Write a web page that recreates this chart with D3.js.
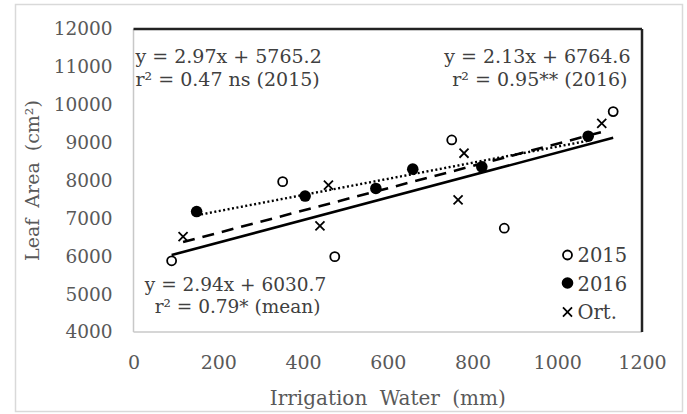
<!DOCTYPE html>
<meta charset="utf-8">
<script src="https://d3js.org/d3.v7.min.js"></script>
<style>
  body { margin: 0; background: #fff; }
  text { font-family: "DejaVu Serif", serif; }
</style>
<div id="my_dataviz"></div>
<script>
  // data
  const irr2015 = [90, 352, 475, 751, 875, 1132];
  const leaf2015 = [5880, 7970, 5990, 9070, 6740, 9820];
  const irr2016 = [149, 405, 572, 659, 822, 1073];
  const leaf2016 = [7180, 7590, 7790, 8300, 8360, 9170];
  const irrOrt = [117, 440, 460, 766, 780, 1105];
  const leafOrt = [6520, 6800, 7880, 7490, 8720, 9510];

  // regression lines: slope, intercept
  const fit2015 = [2.97, 5765.2];
  const fit2016 = [2.13, 6764.6];
  const fitMean = [2.94, 6030.7];

  const xTicks = [0, 200, 400, 600, 800, 1000, 1200];
  const yTicks = [4000, 5000, 6000, 7000, 8000, 9000, 10000, 11000, 12000];

  const W = 687, H = 414;
  const margin = {top: 29, right: 45, bottom: 82, left: 133.5};
  const width = W - margin.left - margin.right,
        height = H - margin.top - margin.bottom;

  const root = d3.select("#my_dataviz").append("svg")
    .attr("width", W).attr("height", H);

  // outer frame
  root.append("rect")
    .attr("x", 15.5).attr("y", 4.5).attr("width", 667).attr("height", 407)
    .attr("fill", "#fff").attr("stroke", "#d9d9d9").attr("stroke-width", 1.5);

  const svg = root.append("g")
    .attr("transform", `translate(${margin.left},${margin.top})`);

  const x = d3.scaleLinear().domain([0, 1200]).range([0, width]);
  const y = d3.scaleLinear().domain([4000, 12000]).range([height, 0]);

  // axes (labels only)
  const xAxis = svg.append("g")
    .attr("transform", `translate(0,${height})`)
    .call(d3.axisBottom(x).tickValues(xTicks).tickSize(0).tickPadding(24).tickFormat(d3.format("d")));
  xAxis.select(".domain").remove();
  xAxis.selectAll("text").attr("font-size", 19).attr("fill", "#595959")
    .attr("font-family", "DejaVu Serif");

  const yAxis = svg.append("g")
    .call(d3.axisLeft(y).tickValues(yTicks).tickSize(0).tickPadding(21).tickFormat(d3.format("d")));
  yAxis.select(".domain").remove();
  yAxis.selectAll("text").attr("font-size", 18.5).attr("fill", "#595959")
    .attr("font-family", "DejaVu Serif");

  // plot frame: grey left/bottom, dark top/right
  svg.append("line").attr("x1", 0).attr("x2", 0).attr("y1", 0).attr("y2", height)
    .attr("stroke", "#c8c8c8").attr("stroke-width", 1.5);
  svg.append("line").attr("x1", 0).attr("x2", width).attr("y1", height).attr("y2", height)
    .attr("stroke", "#c8c8c8").attr("stroke-width", 1.5);
  svg.append("line").attr("x1", 0).attr("x2", width).attr("y1", 0).attr("y2", 0)
    .attr("stroke", "#222").attr("stroke-width", 2.5);
  svg.append("line").attr("x1", width).attr("x2", width).attr("y1", 0).attr("y2", height)
    .attr("stroke", "#222").attr("stroke-width", 2.5);

  // trend lines
  function trend(xs, fit, dash, w) {
    const x0 = d3.min(xs), x1 = d3.max(xs);
    svg.append("line")
      .attr("x1", x(x0)).attr("y1", y(fit[0] * x0 + fit[1]))
      .attr("x2", x(x1)).attr("y2", y(fit[0] * x1 + fit[1]))
      .attr("stroke", "#000").attr("stroke-width", w)
      .attr("stroke-dasharray", dash);
  }
  trend(irr2015, fit2015, null, 2.6);
  trend(irrOrt, fitMean, "12,8", 2.6);
  trend(irr2016, fit2016, "2,2.5", 2.4);

  // points
  const d2015 = irr2015.map((v, i) => [v, leaf2015[i]]);
  const d2016 = irr2016.map((v, i) => [v, leaf2016[i]]);
  const dOrt = irrOrt.map((v, i) => [v, leafOrt[i]]);

  svg.selectAll(".p15").data(d2015).join("circle")
    .attr("cx", d => x(d[0])).attr("cy", d => y(d[1])).attr("r", 4.5)
    .attr("fill", "#fff").attr("stroke", "#000").attr("stroke-width", 1.8);

  svg.selectAll(".p16").data(d2016).join("circle")
    .attr("cx", d => x(d[0])).attr("cy", d => y(d[1])).attr("r", 5.8)
    .attr("fill", "#000");

  const cross = d3.symbol().type(d3.symbolX).size(55);
  svg.selectAll(".pOrt").data(dOrt).join("path")
    .attr("transform", d => `translate(${x(d[0])},${y(d[1])})`)
    .attr("d", cross).attr("fill", "none").attr("stroke", "#000").attr("stroke-width", 1.8);

  // equations
  const eq = svg.append("g").attr("font-size", 19).attr("fill", "#404040");
  eq.append("text").attr("x", 2).attr("y", 34).text("y = 2.97x + 5765.2");
  eq.append("text").attr("x", 2).attr("y", 57).text("r² = 0.47 ns (2015)");
  eq.append("text").attr("x", 497).attr("y", 34).attr("text-anchor", "end").text("y = 2.13x + 6764.6");
  eq.append("text").attr("x", 494).attr("y", 57).attr("text-anchor", "end").text("r² = 0.95** (2016)");
  eq.append("text").attr("x", 102).attr("y", 262).attr("text-anchor", "middle")
    .attr("font-size", 18.5).text("y = 2.94x + 6030.7");
  eq.append("text").attr("x", 104).attr("y", 284).attr("text-anchor", "middle")
    .attr("font-size", 18.5).text("r² = 0.79* (mean)");

  // legend
  const lg = svg.append("g").attr("transform", `translate(${434},${226})`);
  lg.append("circle").attr("cx", 0).attr("cy", 0).attr("r", 4.5)
    .attr("fill", "#fff").attr("stroke", "#000").attr("stroke-width", 1.8);
  lg.append("circle").attr("cx", 0).attr("cy", 28).attr("r", 5.8).attr("fill", "#000");
  lg.append("path").attr("transform", "translate(0,57)").attr("d", cross)
    .attr("fill", "none").attr("stroke", "#000").attr("stroke-width", 1.8);
  const lgText = ["2015", "2016", "Ort."];
  lg.selectAll("text").data(lgText).join("text")
    .attr("x", 10).attr("y", (d, i) => i * 28.5 + 7)
    .attr("font-size", 19.5).attr("fill", "#404040").text(d => d);

  // axis titles
  root.append("text")
    .attr("transform", `translate(39,${margin.top + height / 2}) rotate(-90)`)
    .attr("text-anchor", "middle").attr("font-size", 19).attr("fill", "#595959")
    .attr("word-spacing", 5)
    .text("Leaf Area (cm²)");
  root.append("text")
    .attr("x", margin.left + width / 2).attr("y", 405)
    .attr("text-anchor", "middle").attr("font-size", 20).attr("fill", "#595959")
    .attr("word-spacing", 6)
    .text("Irrigation Water (mm)");
</script>
